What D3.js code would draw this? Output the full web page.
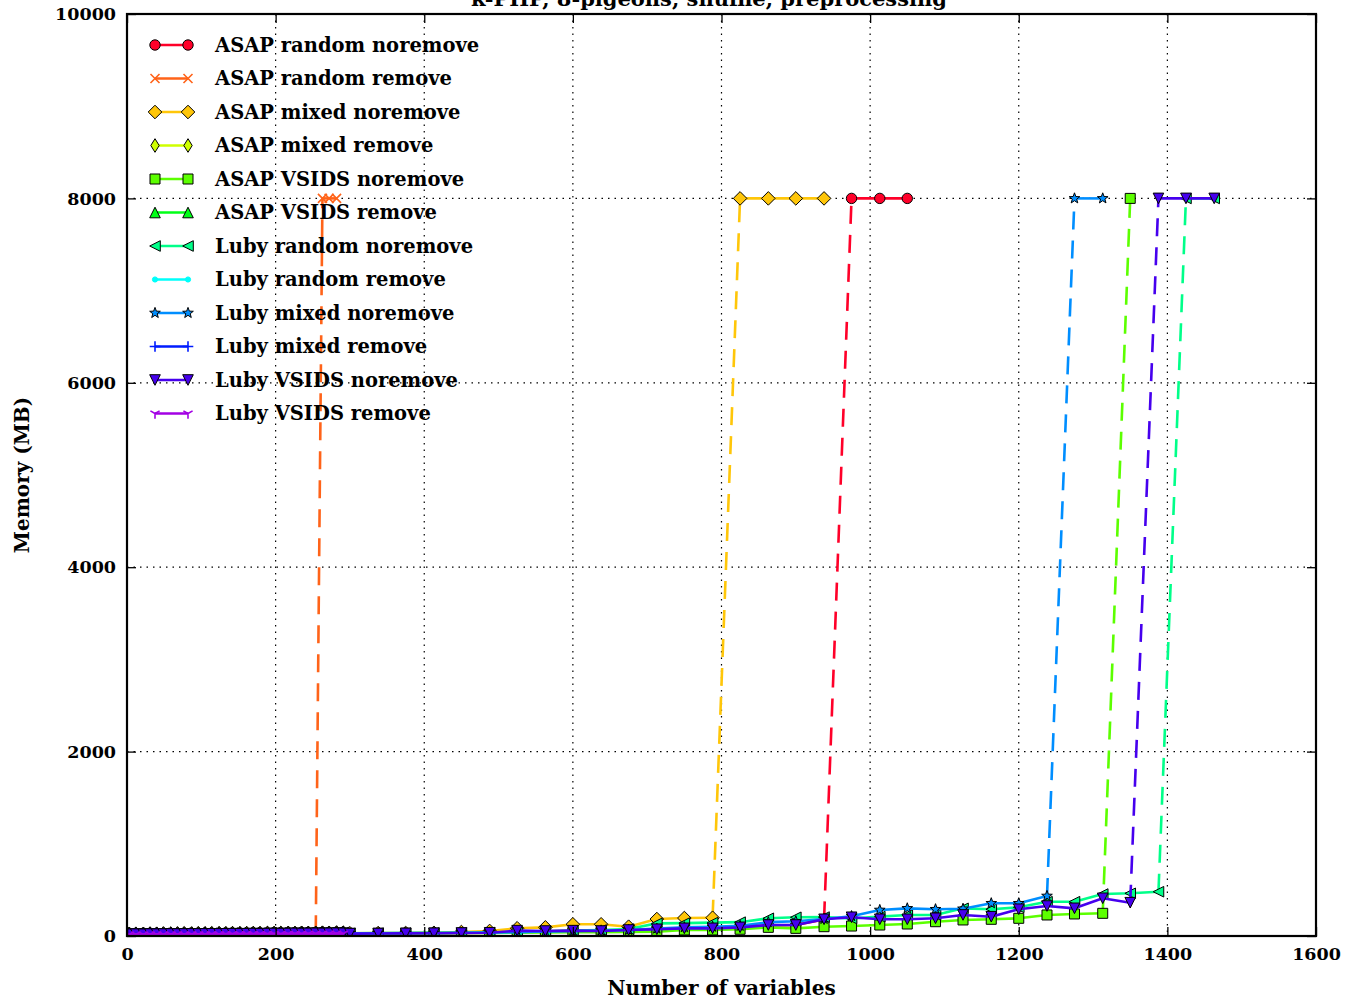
<!DOCTYPE html>
<html><head><meta charset="utf-8">
<script src="https://cdn.jsdelivr.net/npm/d3@7"></script>
<style>body{margin:0;background:#fff}svg{display:block}</style>
</head><body><svg id="c" width="1360" height="1001"></svg>
<script>
// ---------------- DATA ----------------
const xValues = [3,12,22,31,40,49,59,68,77,87,96,105,114,124,133,142,152,161,170,179,189,198,207,217,226,235,244,254,263,272,282,291,
  300,338,375,413,450,488,525,563,600,638,675,713,750,788,825,863,900,938,975,1013,1050,1088,1125,1163,1200,1238,1275,1313,1350,1388,1425,1463];

const seriesNames = ["ASAP random noremove","ASAP random remove","ASAP mixed noremove","ASAP mixed remove",
  "ASAP VSIDS noremove","ASAP VSIDS remove","Luby random noremove","Luby random remove",
  "Luby mixed noremove","Luby mixed remove","Luby VSIDS noremove","Luby VSIDS remove"];
const seriesColors = ["#ff0029","#ff6319","#ffc609","#cfff00","#5cff00","#00ff17","#00ff89","#00fffb",
  "#008eff","#001cff","#4600ee","#a300e4"];
const seriesMarkers = ["circle","x","diamond","thinDiamond","square","triUp","triLeft","point","star","plus","triDown","tri1"];

const N = null;
const asapRandomNoremove = [22,23,22,24,23,24,25,24,25,26,25,26,27,26,27,28,27,28,29,28,29,30,29,30,31,30,31,32,31,32,33,32,
  27,28,30,31,33,36,50,52,56,58,62,70,80,85,95,115,120,180,8000,8000,8000,N,N,N,N,N,N,N,N,N,N,N];
const asapRandomRemove = [21,22,22,23,22,24,23,24,25,24,25,26,25,26,27,26,27,28,27,28,29,28,29,30,29,30,31,31,8000,8000,8000,N,
  N,N,N,N,N,N,N,N,N,N,N,N,N,N,N,N,N,N,N,N,N,N,N,N,N,N,N,N,N,N,N,N];
const asapMixedNoremove = [24,25,24,26,25,27,26,27,28,27,29,28,29,30,29,31,30,31,32,31,33,32,33,34,33,35,34,35,36,35,37,36,
  30,32,33,35,43,55,84,94,127,127,101,184,195,198,8000,8000,8000,8000,N,N,N,N,N,N,N,N,N,N,N,N,N,N];
const asapMixedRemove = [23,24,23,25,24,26,25,26,27,26,28,27,28,29,28,30,29,30,31,30,32,31,32,33,32,34,33,34,35,34,36,35,
  N,N,N,N,N,N,N,N,N,N,N,N,N,N,N,N,N,N,N,N,N,N,N,N,N,N,N,N,N,N,N,N];
const asapVsidsNoremove = [20,21,21,22,21,22,23,22,23,24,23,24,25,24,25,26,25,26,27,26,27,28,27,28,29,28,29,30,29,30,31,30,
  28,29,30,31,32,34,36,38,40,42,44,47,65,65,73,94,83,101,108,119,130,155,174,181,192,228,239,246,8000,N,N,N];
const asapVsidsRemove = [22,22,23,23,24,23,24,25,24,25,26,25,26,27,26,27,28,27,28,29,28,29,30,29,30,31,30,31,32,31,32,33,
  N,N,N,N,N,N,N,N,N,N,N,N,N,N,N,N,N,N,N,N,N,N,N,N,N,N,N,N,N,N,N,N];
const lubyRandomNoremove = [25,26,25,27,26,28,27,28,29,28,30,29,30,31,30,32,31,32,33,32,34,33,34,35,34,36,35,36,37,36,38,37,
  30,31,32,34,36,38,45,50,60,65,75,137,140,145,150,192,203,205,190,210,228,228,300,290,311,372,372,455,463,480,8000,8000];
const lubyRandomRemove = [21,21,22,22,23,22,23,24,23,24,25,24,25,26,25,26,27,26,27,28,27,28,29,28,29,30,29,30,31,30,31,32,
  N,N,N,N,N,N,N,N,N,N,N,N,N,N,N,N,N,N,N,N,N,N,N,N,N,N,N,N,N,N,N,N];
const lubyMixedNoremove = [24,24,25,25,26,25,26,27,26,27,28,27,28,29,28,29,30,29,30,31,30,31,32,31,32,33,32,33,34,33,34,35,
  29,30,32,33,35,38,42,48,55,60,65,80,95,100,110,150,160,185,215,282,300,290,295,355,355,434,8000,8000,N,N,N,N];
const lubyMixedRemove = [20,21,20,22,21,22,23,22,23,22,24,23,24,25,24,25,26,25,26,27,26,27,28,27,28,29,28,29,30,29,30,31,
  N,N,N,N,N,N,N,N,N,N,N,N,N,N,N,N,N,N,N,N,N,N,N,N,N,N,N,N,N,N,N,N];
const lubyVsidsNoremove = [19,20,19,21,20,21,22,21,22,23,22,23,24,23,24,25,24,25,26,25,26,27,26,27,28,27,28,29,28,29,30,29,
  26,27,28,30,32,35,58,54,58,54,65,73,83,83,94,119,119,181,203,181,181,192,228,209,290,325,300,409,361,8000,8000,8000];
const lubyVsidsRemove = [16,17,16,17,18,17,18,17,18,19,18,19,20,19,20,21,20,21,22,21,22,23,22,23,24,23,24,25,24,25,26,25,
  N,N,N,N,N,N,N,N,N,N,N,N,N,N,N,N,N,N,N,N,N,N,N,N,N,N,N,N,N,N,N,N];

const seriesValues = [asapRandomNoremove,asapRandomRemove,asapMixedNoremove,asapMixedRemove,asapVsidsNoremove,asapVsidsRemove,
  lubyRandomNoremove,lubyRandomRemove,lubyMixedNoremove,lubyMixedRemove,lubyVsidsNoremove,lubyVsidsRemove];

const xTicks = [0,200,400,600,800,1000,1200,1400,1600];
const yTicks = [0,2000,4000,6000,8000,10000];
const titleText = "k-PHP, 8-pigeons, shuffle, preprocessing";
const xLabel = "Number of variables";
const yLabel = "Memory (MB)";
const capValue = 8000;

// ---------------- LAYOUT ----------------
const L = 127, R = 1316, T = 14, B = 936;
const FONT = "'DejaVu Serif', serif";
const svg = d3.select("#c");
const x = d3.scaleLinear().domain([0,1600]).range([L,R]);
const y = d3.scaleLinear().domain([0,10000]).range([B,T]);

svg.append("rect").attr("width",1360).attr("height",1001).attr("fill","#fff");

// grid
const grid = svg.append("g").attr("stroke","#000").attr("stroke-width",1.2).attr("stroke-dasharray","1.5,5");
grid.selectAll("line.gx").data(xTicks.slice(1,-1)).join("line")
  .attr("x1",d=>x(d)).attr("x2",d=>x(d)).attr("y1",T).attr("y2",B);
grid.selectAll("line.gy").data(yTicks.slice(1,-1)).join("line")
  .attr("y1",d=>y(d)).attr("y2",d=>y(d)).attr("x1",L).attr("x2",R);

// clip
svg.append("clipPath").attr("id","clip").append("rect").attr("x",L).attr("y",T).attr("width",R-L).attr("height",B-T);

// marker shapes
function starPath(ro, ri){
  let p = [];
  for(let i=0;i<10;i++){
    const r = i%2===0?ro:ri, a = -Math.PI/2 + i*Math.PI/5;
    p.push([r*Math.cos(a), r*Math.sin(a)]);
  }
  return "M"+p.map(q=>q[0].toFixed(2)+","+q[1].toFixed(2)).join("L")+"Z";
}
const markerDefs = {
  circle:{d:d3.symbol(d3.symbolCircle, Math.PI*5.2*5.2)(), filled:true},
  x:{d:"M-4.5,-4.5L4.5,4.5M-4.5,4.5L4.5,-4.5", filled:false, w:1.6},
  diamond:{d:"M0,-6.8L6.8,0L0,6.8L-6.8,0Z", filled:true},
  thinDiamond:{d:"M0,-6.8L4.2,0L0,6.8L-4.2,0Z", filled:true},
  square:{d:"M-5,-5H5V5H-5Z", filled:true},
  triUp:{d:"M0,-5.3L5.3,5.3L-5.3,5.3Z", filled:true},
  triLeft:{d:"M-5.3,0L5.3,-5.3L5.3,5.3Z", filled:true},
  point:{d:d3.symbol(d3.symbolCircle, Math.PI*2.6*2.6)(), filled:true, noEdge:true},
  star:{d:starPath(5.6,2.3), filled:true},
  plus:{d:"M-5.3,0H5.3M0,-5.3V5.3", filled:false, w:1.6},
  triDown:{d:"M0,5.3L5.3,-5.3L-5.3,-5.3Z", filled:true},
  tri1:{d:"M0,0V5.3M0,0L-4.6,-2.65M0,0L4.6,-2.65", filled:false, w:1.6}
};
function drawMarker(g, type, color, px, py){
  const m = markerDefs[type];
  const p = g.append("path").attr("d",m.d).attr("transform",`translate(${px},${py})`);
  if(m.filled){
    p.attr("fill",color).attr("stroke",m.noEdge?color:"#000").attr("stroke-width",1);
  } else {
    p.attr("fill","none").attr("stroke",color).attr("stroke-width",m.w);
  }
}

// data
const plot = svg.append("g").attr("clip-path","url(#clip)");
const line = d3.line().x(d=>x(d[0])).y(d=>y(d[1]));
seriesValues.forEach((vals, si) => {
  const color = seriesColors[si];
  const g = plot.append("g");
  const pts = [];
  xValues.forEach((xv,i)=>{ if(vals[i]!==null) pts.push([xv, vals[i]]); });
  let run = [pts[0]];
  const runs = [], jumps = [];
  for(let i=1;i<pts.length;i++){
    const a = pts[i-1], b = pts[i];
    if(a[1] < capValue && b[1] >= capValue){
      runs.push(run); jumps.push([a,b]); run=[b];
    } else run.push(b);
  }
  runs.push(run);
  runs.forEach(r=>{ if(r.length>1) g.append("path").attr("d",line(r)).attr("fill","none")
    .attr("stroke",color).attr("stroke-width",2.6).attr("stroke-linejoin","round"); });
  jumps.forEach(j=>{ g.append("path").attr("d",line(j)).attr("fill","none")
    .attr("stroke",color).attr("stroke-width",2.6).attr("stroke-dasharray","18,11"); });
  pts.forEach(p=>drawMarker(g, seriesMarkers[si], color, x(p[0]), y(p[1])));
});

// axes (inward ticks on all sides)
const tickLen = 9;
const ax = svg.append("g").attr("font-family",FONT);
ax.append("g").attr("transform",`translate(0,${B})`)
  .call(d3.axisBottom(x).tickValues(xTicks).tickFormat(d3.format("d")).tickSizeInner(-tickLen).tickSizeOuter(0).tickPadding(12));
ax.append("g").attr("transform",`translate(${L},0)`)
  .call(d3.axisLeft(y).tickValues(yTicks).tickFormat(d3.format("d")).tickSizeInner(-tickLen).tickSizeOuter(0).tickPadding(11));
ax.append("g").attr("transform",`translate(0,${T})`)
  .call(d3.axisTop(x).tickValues(xTicks).tickFormat("").tickSizeInner(-tickLen).tickSizeOuter(0));
ax.append("g").attr("transform",`translate(${R},0)`)
  .call(d3.axisRight(y).tickValues(yTicks).tickFormat("").tickSizeInner(-tickLen).tickSizeOuter(0));
ax.selectAll(".domain").remove();
ax.selectAll(".tick line").attr("stroke","#000").attr("stroke-width",1.3);
ax.selectAll(".tick text").attr("fill","#000").attr("font-size",17.5).attr("font-weight","bold").attr("font-family",FONT);

// frame
svg.append("rect").attr("x",L).attr("y",T).attr("width",R-L).attr("height",B-T)
  .attr("fill","none").attr("stroke","#000").attr("stroke-width",2.2);

// labels
svg.append("text").attr("x",(L+R)/2).attr("y",995).attr("text-anchor","middle")
  .attr("font-family",FONT).attr("font-weight","bold").attr("font-size",20).text(xLabel);
svg.append("text").attr("transform","translate(29,475) rotate(-90)").attr("text-anchor","middle")
  .attr("font-family",FONT).attr("font-weight","bold").attr("font-size",20).text(yLabel);
svg.append("text").attr("x",709).attr("y",6).attr("text-anchor","middle")
  .attr("font-family",FONT).attr("font-weight","bold").attr("font-size",21).text(titleText);

// legend
const leg = svg.append("g");
seriesNames.forEach((name, i) => {
  const yy = 45 + i*33.5;
  const g = leg.append("g");
  g.append("line").attr("x1",155).attr("x2",188).attr("y1",yy).attr("y2",yy)
    .attr("stroke",seriesColors[i]).attr("stroke-width",2.6);
  drawMarker(g, seriesMarkers[i], seriesColors[i], 155, yy);
  drawMarker(g, seriesMarkers[i], seriesColors[i], 188, yy);
  g.append("text").attr("x",215).attr("y",yy).attr("dy","0.35em")
    .attr("font-family",FONT).attr("font-weight","bold").attr("font-size",19.5).text(name);
});
</script>
</body></html>
